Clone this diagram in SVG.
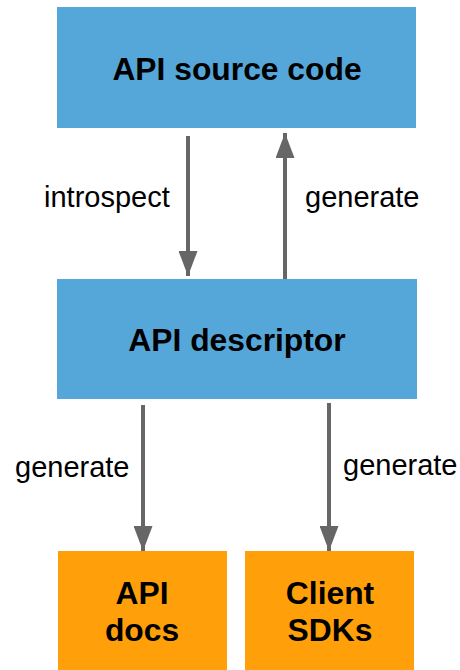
<svg xmlns="http://www.w3.org/2000/svg" width="460" height="670" viewBox="0 0 460 670">
<style>
.blue{fill:#55a7da}
.orange{fill:#ffa00b}
.t{font-family:"Liberation Sans",Arial,sans-serif;font-weight:bold;font-size:31.8px;fill:#000;text-anchor:middle}
.l{font-family:"Liberation Sans",Arial,sans-serif;font-size:29px;fill:#000}
.c{stroke:#666;stroke-width:4;fill:none}
</style>
<defs>
<marker id="ah" markerUnits="userSpaceOnUse" markerWidth="25" markerHeight="19" refX="25" refY="9.5" orient="auto" viewBox="0 0 25 19">
<path d="M0,0 L25,9.5 L0,19 Z" fill="#666"/>
</marker>
</defs>
<rect width="460" height="670" fill="#fff"/>
<g id="src"><rect class="blue" x="57" y="7" width="359" height="121"/><text class="t" x="237" y="80">API source code</text></g>
<g id="desc"><rect class="blue" x="57" y="279" width="360" height="120"/><text class="t" x="237" y="351">API descriptor</text></g>
<g id="docs"><rect class="orange" x="58" y="551" width="169" height="119"/><text class="t" x="142" y="604">API</text><text class="t" x="142" y="641">docs</text></g>
<g id="sdks"><rect class="orange" x="245" y="551" width="169" height="119"/><text class="t" x="330" y="604">Client</text><text class="t" x="330" y="641">SDKs</text></g>
<g id="connectors">
<line class="c" x1="188" y1="136" x2="188" y2="276" marker-end="url(#ah)"/>
<line class="c" x1="285" y1="279" x2="285" y2="133" marker-end="url(#ah)"/>
<line class="c" x1="143" y1="405" x2="143" y2="551" marker-end="url(#ah)"/>
<line class="c" x1="329" y1="403" x2="329" y2="551" marker-end="url(#ah)"/>
<text class="l" x="44" y="207">introspect</text>
<text class="l" x="305" y="207">generate</text>
<text class="l" x="15" y="477">generate</text>
<text class="l" x="343" y="475">generate</text>
</g>
</svg>
